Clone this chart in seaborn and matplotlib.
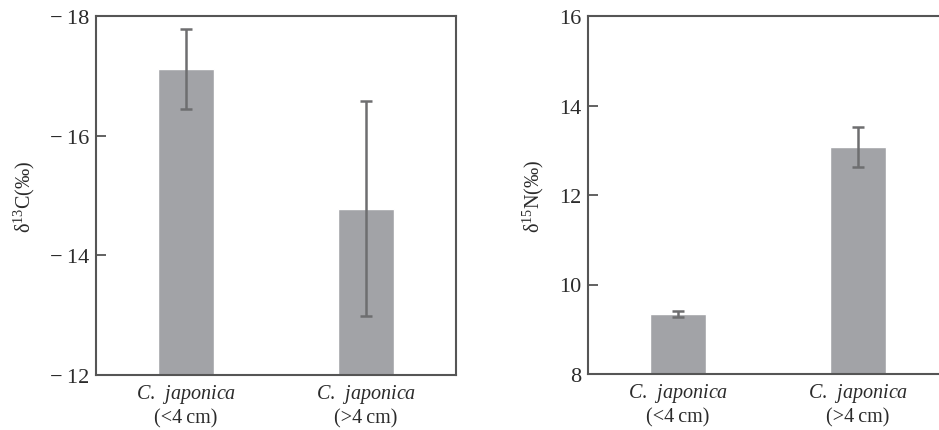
import matplotlib
matplotlib.use('Agg')
import numpy as np
import pandas as pd
import seaborn as sns
from matplotlib import pyplot as plt
from matplotlib.ticker import FuncFormatter

# values
groups = ['<4 cm', '>4 cm']
d13c_mean = [-17.11, -14.78]
d13c_err = [0.67, 1.80]
d15n_mean = [9.34, 13.07]
d15n_err = [0.06, 0.45]
d13c_ticks = [-18, -16, -14, -12]
d15n_ticks = [8, 10, 12, 14, 16]

sns.set_style('white')
plt.rcParams['font.family'] = ['Liberation Serif', 'DejaVu Serif']
plt.rcParams['mathtext.fontset'] = 'custom'
plt.rcParams['mathtext.rm'] = 'Liberation Serif'
plt.rcParams['mathtext.it'] = 'Liberation Serif:italic'

bar_color = '#a2a3a7'
err_color = '#6e6e70'
spine_color = '#555555'
text_color = '#2b2b2b'

cat_labels = [r'$\it{C.\,\ japonica}$' + '\n(' + g.replace(' ', '\u2009') + ')' for g in groups]


def draw_panel(ax, means, errs, ylim, ticks, ylabel, fmt):
    df = pd.DataFrame({'group': groups, 'value': means})
    sns.barplot(data=df, x='group', y='value', order=groups, color=bar_color,
                saturation=1, width=0.31, errorbar=None, ax=ax)
    xs = np.arange(len(groups))
    ax.errorbar(xs, means, yerr=errs, fmt='none', ecolor=err_color,
                elinewidth=1.8, capsize=4, capthick=1.8, zorder=5)
    ax.set_xlim(-0.5, len(groups) - 0.5)
    ax.set_ylim(*ylim)
    ax.set_yticks(ticks)
    ax.yaxis.set_major_formatter(FuncFormatter(fmt))
    ax.set_xticks([0.5])
    ax.set_xticklabels([''])
    ax.set_xticks(xs, minor=True)
    ax.set_xticklabels(cat_labels, minor=True)
    ax.tick_params(axis='x', which='major', direction='in', length=8,
                   width=1.3, color=spine_color)
    ax.tick_params(axis='x', which='minor', length=0, pad=5,
                   labelsize=14.5, labelcolor=text_color)
    ax.tick_params(axis='y', direction='in', length=7, width=1.3,
                   color=spine_color, labelsize=16, labelcolor=text_color, pad=5,
                   left=True)
    ax.set_xlabel('')
    ax.set_ylabel(ylabel, fontsize=14.5, color=text_color, labelpad=9)
    for s in ax.spines.values():
        s.set_visible(True)
        s.set_color(spine_color)
        s.set_linewidth(1.5)


def neg_fmt(v, pos):
    return '\u2212\u2009%g' % abs(v) if v < 0 else '%g' % v


def pos_fmt(v, pos):
    return '%g' % v


fig = plt.figure(figsize=(9.39, 4.31), dpi=100)
ax1 = fig.add_axes([96 / 939, 55 / 431, 360 / 939, 359 / 431])
ax2 = fig.add_axes([588 / 939, 56 / 431, 360 / 939, 358 / 431])

draw_panel(ax1, d13c_mean, d13c_err, (-12, -18), d13c_ticks,
           '\u03b4$^{13}$C(\u2030)', neg_fmt)
draw_panel(ax2, d15n_mean, d15n_err, (8, 16), d15n_ticks,
           '\u03b4$^{15}$N(\u2030)', pos_fmt)

fig.savefig('out.png', dpi=100)
